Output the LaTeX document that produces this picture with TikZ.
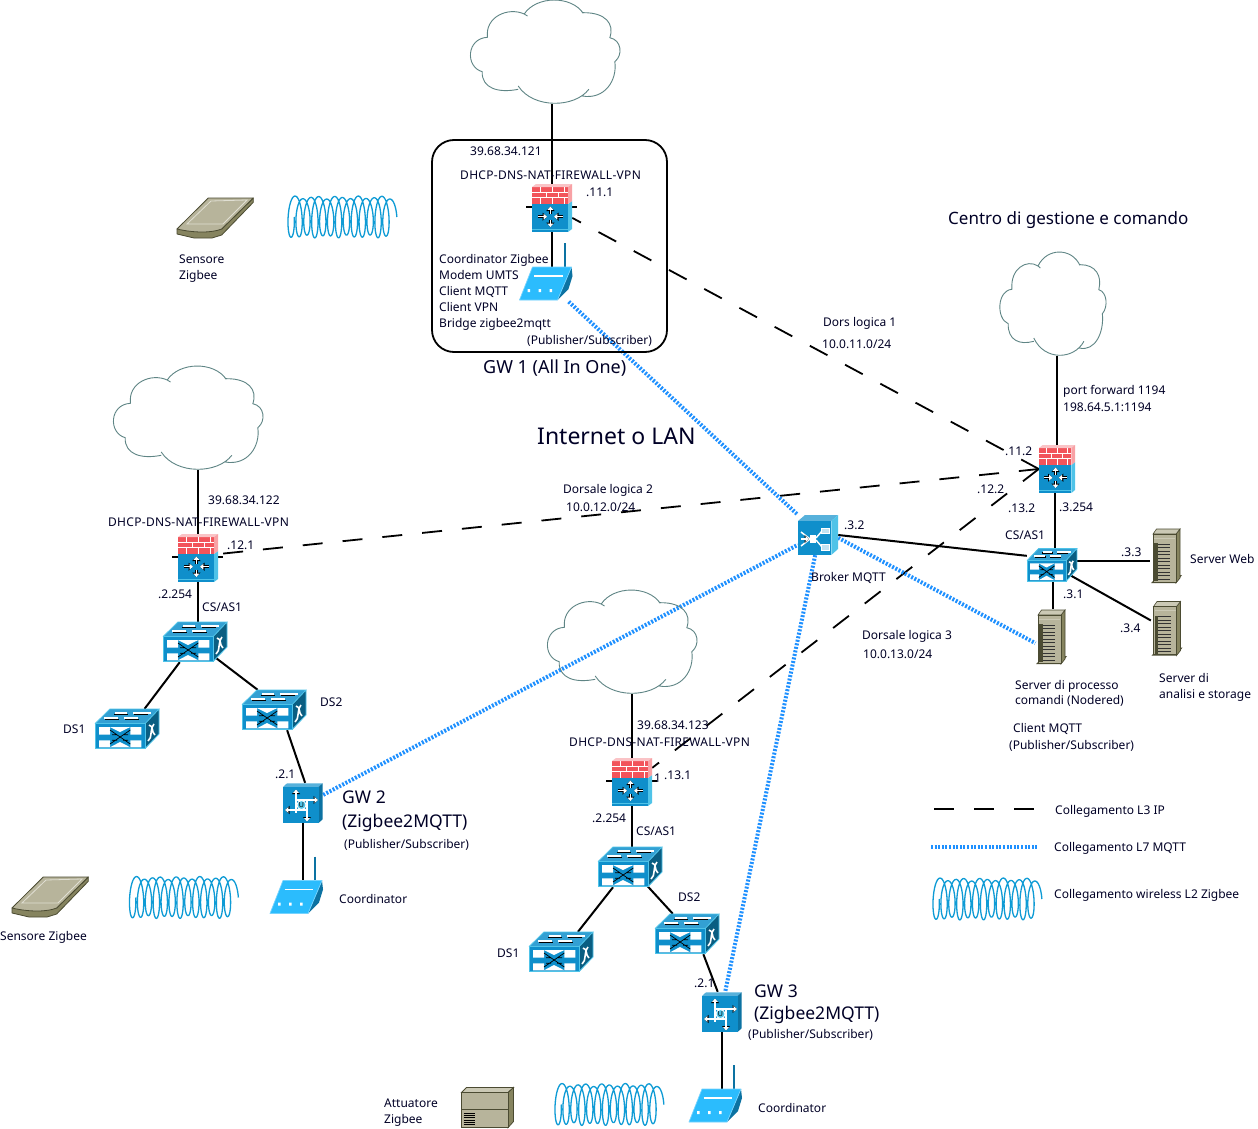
\documentclass[tikz,border=0pt]{standalone}
\usepackage{fontspec}
\setmainfont{Noto Sans}
\usetikzlibrary{arrows.meta}
\pgfdeclarelayer{links}
\pgfsetlayers{links,main}
\definecolor{netblue}{HTML}{0F8FCB}
\definecolor{netlight}{HTML}{4FC3E8}
\definecolor{netdark}{HTML}{0A5E82}
\definecolor{modemblue}{HTML}{2BBCFD}
\definecolor{brick}{HTML}{F2545B}
\definecolor{beige}{HTML}{B7B49B}
\definecolor{beigetop}{HTML}{CBC9B5}
\definecolor{beigeside}{HTML}{86845F}
\definecolor{beigeedge}{HTML}{4B4B32}
\definecolor{cloudline}{HTML}{5F8585}
\definecolor{mqtt}{HTML}{1E90FF}
\definecolor{coil}{HTML}{0E9BD5}
\newcommand\iconarrow[2]{%
  \draw[black,line width=2.6pt,-{Triangle[length=4.5pt,width=8pt]}] #1 -- #2;
  \draw[white,line width=1.3pt,-{Triangle[length=3.4pt,width=5.6pt]}] #1 -- #2;}
\newcommand\lab[5][txt]{\node[#1] (#2) at (#3,#4) {#5};}
\newcommand\svc{\addfontfeature{LetterSpace=2.5}DHCP-DNS-NAT-FIREWALL-VPN}
\tikzset{
  x=1pt,y=-1pt,
  txt/.style={anchor=base west,inner sep=0pt,yshift=-1pt,font=\fontsize{12}{14}\selectfont,text=black!85!blue},
  bigtxt/.style={txt,font=\fontsize{17.5}{20}\selectfont},
  iconbox/.style 2 args={inner sep=0pt,minimum width=#1pt,minimum height=#2pt},
  wire/.style={draw=black,line width=2pt},
  tunnel/.style={draw=black,line width=1.8pt,dash pattern=on 20pt off 20pt},
  mqttlink/.style={draw=mqtt,line width=4pt,dash pattern=on 2pt off 1.6pt},
  cloudicon/.pic={
    \draw[cloudline,line width=.9pt,line join=round]
      (-18.5,-36) -- (-21.8,-38) .. controls (-9.5,-56.5) and (25.5,-56.5) .. (37.2,-38.7)
      (36,-39.5) -- (38.2,-39.3) .. controls (58.8,-39.3) and (68.8,-28.7) .. (63.8,-14.3)
      .. controls (75.5,-12) and (77.2,3) .. (68.8,9.7)
      .. controls (71.5,28) and (58.8,48) .. (36.2,44)
      (42.8,37.3) .. controls (28.8,56) and (-12.8,57) .. (-27.8,34)
      (-27.8,37.3) .. controls (-47.8,41.3) and (-64.5,36.3) .. (-63.8,19.7)
      .. controls (-81,14.7) and (-79.5,-13.7) .. (-58.5,-14.7)
      (-58.5,-14.7) .. controls (-61.2,-35.3) and (-37.8,-45.3) .. (-21.8,-38);
  },
  fwstub/.pic={
    \draw[black,line width=2pt] (-26,-1) -- (25,-1);
  },
  fwicon/.pic={
    \fill[netlight] (16,-4) -- (20,-7) -- (20,21) -- (16,24) -- cycle;
    \fill[netblue] (-20,-4) rectangle (16,24);
    \draw[netlight,line width=.9pt] (-20,21) -- (16,21);
    \fill[brick] (-20,-21) rectangle (16,-4);
    \fill[brick!35!white] (-20,-21) -- (-16,-24) -- (20,-24) -- (16,-21) -- cycle;
    \fill[brick!55!white] (16,-21) -- (20,-24) -- (20,-7) -- (16,-4) -- cycle;
    \draw[white,line width=.8pt]
      (-20,-16) -- (16,-16) (-20,-10.5) -- (16,-10.5)
      (-12,-21) -- (-12,-16) (0,-21) -- (0,-16) (12,-21) -- (12,-16)
      (-6,-16) -- (-6,-10.5) (6,-16) -- (6,-10.5)
      (-12,-10.5) -- (-12,-4) (0,-10.5) -- (0,-4) (12,-10.5) -- (12,-4);
    \iconarrow{(-14,8.7)}{(-5,8.7)}
    \iconarrow{(11,8.7)}{(2,8.7)}
    \iconarrow{(-1.6,6)}{(-1.6,-1.5)}
    \iconarrow{(-1.6,11.5)}{(-1.6,19)}
  },
  switchicon/.pic={
    \fill[netdark] (18,-5.3) -- (32,-20) -- (32,5) -- (18,19.6) -- cycle;
    \fill[netblue!85!white] (-32,-5.3) -- (-17,-20) -- (32,-20) -- (18,-5.3) -- cycle;
    \filldraw[fill=netblue,draw=netlight,line width=.8pt] (-32,-5.3) rectangle (18,19.6);
    \draw[netlight,line width=.8pt] (-32,-5.3) -- (-17,-20) -- (32,-20) -- (18,-5.3) (32,-20) -- (32,5) -- (18,19.6);
    \fill[white] (-28,-2) rectangle (-17,5.7) (-28,11.3) rectangle (-17,18.3)
                 (3.3,-2) rectangle (14.3,5.7) (3.3,11.3) rectangle (14.3,18.3);
    \fill[white] (-17,-2) -- (3.3,-2) -- (-7,3) -- cycle (-17,18.3) -- (3.3,18.3) -- (-7,13) -- cycle;
    \draw[black,line width=.7pt] (-17,1) -- (3.3,15) (-17,15) -- (3.3,1)
      (-15,5.7) -- (-10,5.7) (-4,5.7) -- (1,5.7) (-15,11.3) -- (-10,11.3) (-4,11.3) -- (1,11.3);
    \draw[black,line width=1.4pt] (-22,-9.5) -- (-8,-9.5) (-2,-9.5) -- (12,-9.5) (-13,-14.5) -- (1,-14.5) (7,-14.5) -- (21,-14.5);
    \draw[white,line width=1.8pt] (-23,-11) -- (-9,-11) (-3,-11) -- (11,-11) (-12,-16) -- (0,-16) (6,-16) -- (24,-16);
    \draw[white,line width=1.6pt] (21,12) .. controls (26,8) and (22,2) .. (27,-5);
    \draw[white,line width=1.6pt] (28,6) .. controls (24,3) and (27,-3) .. (22,-4);
  },
  modemicon/.pic={
    \draw[netblue!80!black,line width=2pt] (19,-29) -- (19,-5);
    \fill[netblue!80!black] (26,-5) -- (27,4) -- (23,17) -- (12,28) -- cycle;
    \filldraw[fill=modemblue,draw=modemblue!65!white,line width=.7pt,line join=round]
      (-26,28) -- (-13,-5) -- (26,-5) -- (12,28) -- cycle;
    \draw[white,line width=1.8pt] (-11.5,4) -- (17,4);
    \fill[white] (-18,17) rectangle (-15.5,20) (-7,17) rectangle (-4.5,20) (4,17) rectangle (6.5,20);
  },
  gwicon/.pic={
    \fill[netblue!70!white] (-20,-16) -- (-16,-19.7) -- (19.7,-19.7) -- (15.5,-16) -- cycle;
    \fill[netblue!80!black] (15.5,-16) -- (19.7,-19.7) -- (19.7,16.3) -- (15.5,20) -- cycle;
    \fill[netblue] (-20,-16) rectangle (15.5,20);
    \iconarrow{(-7,10)}{(-7,-13.5)}
    \iconarrow{(-7,-3)}{(15,-3)}
    \iconarrow{(4,7)}{(-18,7)}
    \iconarrow{(4,-3)}{(4,18.5)}
    \filldraw[fill=netlight,draw=white,line width=.9pt] (-1.5,2) circle (4.5);
    \node[inner sep=0pt,font=\fontsize{7}{7}\selectfont\bfseries,text=black] (uglyph) at (-1.5,2) {U};
  },
  brokericon/.pic={
    \fill[netblue!70!white] (-20,-14) -- (-13,-20) -- (20,-20) -- (13.3,-14) -- cycle;
    \fill[netlight] (13.3,-14) -- (20,-20) -- (20,14) -- (13.3,20) -- cycle;
    \fill[netblue] (-20,-14) rectangle (13.3,20);
    \draw[white,line width=1.5pt] (-8,4) -- (-17,-3) (-8,4) -- (-17,11) (-8,4) -- (-16,4);
    \iconarrow{(-17,4)}{(-9,4)}
    \fill[white] (-8.3,0) rectangle (-1.7,7.7);
    \draw[white,line width=1.4pt] (-2,3) -- (4,-4) (-2,5) -- (4,12);
    \filldraw[fill=netblue!25!white,draw=white,line width=.8pt] (3.3,-7) rectangle (11,-1.7) (3.3,9) rectangle (11,15);
  },
  servericon/.pic={
    \fill[beigeedge] (-15,26) -- (10,26) -- (16,18) -- (14,18) -- (10,24) -- (-13,24) -- cycle;
    \filldraw[fill=beigeside,draw=beigeedge,line width=.6pt] (10,-23) -- (14,-28) -- (14,21) -- (10,26) -- cycle;
    \filldraw[fill=beigetop,draw=beigeedge,line width=.6pt] (-13,-23) -- (-9.5,-28) -- (14,-28) -- (10,-23) -- cycle;
    \filldraw[fill=beige,draw=beigeedge,line width=.8pt] (-13,-23) rectangle (10,25);
    \draw[beigetop,line width=.8pt] (-12,-19) -- (9,-19);
    \fill[beigeedge] (-12,-14) rectangle (-8.5,24);
    \foreach \rowy in {-13,-9.5,...,23}{\draw[black!80,line width=1pt] (-8.5,\rowy) -- (4,\rowy);}
  },
  cardicon/.pic={
    \filldraw[fill=beigeside,draw=beigeedge,line width=.8pt,line join=round]
      (-38,11) -- (-38,16) -- (-21,20) -- (-3,20) -- (6.7,17) -- (38.3,-15.7) -- (38.3,-20) -- (6.7,11) -- cycle;
    \filldraw[fill=beige,draw=beigeedge,line width=.8pt,line join=round]
      (-38,11) .. controls (-21,15) and (-3,15) .. (6.7,11) -- (38.3,-20) -- (-6.7,-20) -- cycle;
    \draw[beigetop!60!white,line width=.8pt] (-28,6) -- (-4,-17) -- (32,-18) -- (8,6) -- cycle;
  },
  boxicon/.pic={
    \filldraw[fill=beigetop,draw=beigeedge,line width=.8pt] (-26,-15) -- (-21,-20) -- (26,-20) -- (20.6,-15) -- cycle;
    \filldraw[fill=beigeside,draw=beigeedge,line width=.8pt] (20.6,-15) -- (26,-20) -- (26,14) -- (20.6,20) -- cycle;
    \filldraw[fill=beige,draw=beigeedge,line width=1pt] (-26,-15) rectangle (20.6,20);
    \draw[beigeedge,line width=.8pt] (-26,2) -- (20.6,2);
    \foreach \rowy in {6,8.2,...,17}{\draw[black,line width=1pt] (-24,\rowy) -- (-13,\rowy);}
  },
  coilicon/.pic={
    \draw[coil,line width=1.3pt,line join=round]
      plot[domain=0:4680,samples=420,variable=\t,smooth]
        ({(\t/360-6.75)*7.9+5*cos(\t)},{(19.5+1.5*sin(0.37*\t))*sin(\t)});
  }
}
\begin{document}
\begin{tikzpicture}
\useasboundingbox (0,0) rectangle (1258,1129);
\begin{pgfonlayer}{links}
  \fill[white] (0,0) rectangle (1258,1129);
\end{pgfonlayer}

% Clouds
\node[iconbox={148}{104}] (cloudTop) at (546,52) {};
\pic at (cloudTop) {cloudicon};
\node[iconbox={148}{104}] (cloudLeft) at (189,418) {};
\pic at (cloudLeft) {cloudicon};
\node[iconbox={148}{104}] (cloudMid) at (623,642) {};
\pic at (cloudMid) {cloudicon};
\node[iconbox={105}{104}] (cloudRight) at (1053.5,304) {};
\pic[xscale=.71] at (cloudRight) {cloudicon};

% GW 1 enclosure
\node[draw=black,line width=1.8pt,rounded corners=22pt,minimum width=235pt,minimum height=212pt,inner sep=0pt] (gwFrame) at (549.5,246) {};

% Firewalls
\node[iconbox={40}{48}] (fwTop) at (552,208) {};
\pic at (fwTop) {fwstub};
\pic at (fwTop) {fwicon};
\node[iconbox={40}{48}] (fwLeft) at (198,558) {};
\pic at (fwLeft) {fwstub};
\pic at (fwLeft) {fwicon};
\node[iconbox={40}{48}] (fwMid) at (632,782) {};
\pic at (fwMid) {fwstub};
\pic at (fwMid) {fwicon};
\node[iconbox={36}{47}] (fwRight) at (1057,469) {};
\pic[xscale=.9] at (fwRight) {fwicon};

% Switches
\node[iconbox={64}{40}] (swLeft) at (195,642) {};
\pic at (swLeft) {switchicon};
\node[iconbox={64}{40}] (dsOneLeft) at (127,729) {};
\pic at (dsOneLeft) {switchicon};
\node[iconbox={64}{40}] (dsTwoLeft) at (274,710) {};
\pic at (dsTwoLeft) {switchicon};
\node[iconbox={64}{40}] (swMid) at (630,867) {};
\pic at (swMid) {switchicon};
\node[iconbox={64}{40}] (dsOneMid) at (561,952) {};
\pic at (dsOneMid) {switchicon};
\node[iconbox={64}{40}] (dsTwoMid) at (687,934) {};
\pic at (dsTwoMid) {switchicon};
\node[iconbox={50}{33}] (swRight) at (1052,565) {};
\pic[xscale=.78,yscale=.83] at (swRight) {switchicon};

% Zigbee gateways and coordinators
\node[iconbox={40}{40}] (gwTwo) at (303,803) {};
\pic at (gwTwo) {gwicon};
\node[iconbox={40}{40}] (gwThree) at (722,1012) {};
\pic at (gwThree) {gwicon};
\node[iconbox={55}{59}] (modemTop) at (545.5,272) {};
\pic at (modemTop) {modemicon};
\node[iconbox={54}{57}] (modemLeft) at (296,885.5) {};
\pic at (modemLeft) {modemicon};
\node[iconbox={54}{59}] (modemMid) at (715,1094) {};
\pic at (modemMid) {modemicon};

% Broker and servers
\node[iconbox={40}{40}] (broker) at (818,535) {};
\pic at (broker) {brokericon};
\node[iconbox={31}{58}] (srvWeb) at (1166,557) {};
\pic at (srvWeb) {servericon};
\node[iconbox={31}{58}] (srvStore) at (1166.5,629.5) {};
\pic at (srvStore) {servericon};
\node[iconbox={31}{58}] (srvProc) at (1051,638) {};
\pic at (srvProc) {servericon};

% Zigbee end devices and radio links
\node[iconbox={76}{40}] (cardTop) at (215,218) {};
\pic at (cardTop) {cardicon};
\node[iconbox={76}{40}] (cardLeft) at (50,897) {};
\pic at (cardLeft) {cardicon};
\node[iconbox={52}{40}] (actuator) at (487.5,1107.5) {};
\pic at (actuator) {boxicon};
\node[iconbox={108}{42}] (coilTop) at (342.5,217) {};
\pic at (coilTop) {coilicon};
\node[iconbox={108}{42}] (coilLeft) at (184,897.5) {};
\pic at (coilLeft) {coilicon};
\node[iconbox={108}{42}] (coilBottom) at (609.5,1104.5) {};
\pic at (coilBottom) {coilicon};
\node[iconbox={108}{42}] (coilLegend) at (987.5,899) {};
\pic at (coilLegend) {coilicon};

% Legend line ends
\coordinate (legendDashA) at (934,809);
\coordinate (legendDashB) at (1036,809);
\coordinate (legendDotA) at (931,847);
\coordinate (legendDotB) at (1038,847);

\begin{pgfonlayer}{links}
  % Physical links
  \draw[wire] (fwTop.north |- cloudTop.south) -- (fwTop.north);
  \draw[wire] (fwTop.south) -- (fwTop.south |- modemTop.center);
  \draw[wire] (fwLeft.north |- cloudLeft.south) -- (fwLeft.north);
  \draw[wire] (fwLeft.south) -- (fwLeft.south |- swLeft.north);
  \draw[wire] (swLeft.-127) -- (dsOneLeft.49);
  \draw[wire] (swLeft.center) -- (dsTwoLeft.129);
  \draw[wire] (dsTwoLeft.-57) -- (gwTwo.84);
  \draw[wire] (gwTwo.south) -- (gwTwo.south |- modemLeft.center);
  \draw[wire] (fwMid.north |- cloudMid.south) -- (fwMid.north);
  \draw[wire] (fwMid.south) -- (fwMid.south |- swMid.north);
  \draw[wire] (swMid.-130) -- (dsOneMid.50);
  \draw[wire] (swMid.center) -- (dsTwoMid.125);
  \draw[wire] (dsTwoMid.-51) -- (gwThree.102);
  \draw[wire] (gwThree.south) -- (gwThree.south |- modemMid.center);
  \draw[wire] (fwRight.north |- cloudRight.south) -- (fwRight.north);
  \draw[wire] (swRight.80 |- fwRight.south) -- (swRight.80);
  \draw[wire] (broker.east) -- (swRight.160);
  \draw[wire] (swRight.9) -- (swRight.9 -| srvWeb.west);
  \draw[wire] (swRight.center) -- (srvStore.150);
  \draw[wire] (swRight.-85) -- (swRight.-85 |- srvProc.north);
  % Logical backbones
  \draw[tunnel] (fwRight.west) -- (fwTop.-26);
  \draw[tunnel] (fwRight.west) -- (fwLeft.11);
  \draw[tunnel] (fwRight.west) -- (fwMid.35);
  \draw[tunnel] (legendDashA) -- (legendDashB);
  % MQTT sessions
  \draw[mqttlink] (modemTop.-52) -- (broker.135);
  \draw[mqttlink] (gwTwo.22) -- (broker.206.6);
  \draw[mqttlink] (broker.-98) -- (gwThree.81);
  \draw[mqttlink] (broker.-8.5) -- (srvProc.198);
  \draw[mqttlink] (legendDotA) -- (legendDotB);
\end{pgfonlayer}

% Gateway 1 labels
\lab{ipTop}{470}{155}{39.68.34.121}
\lab{svcTop}{460}{178}{\svc}
\lab{addrTopA}{586}{195}{.11.1}
\lab{fnA}{439}{262}{Coordinator Zigbee}
\lab{fnB}{439}{278}{Modem UMTS}
\lab{fnC}{439}{294}{Client MQTT}
\lab{fnD}{439}{310}{Client VPN}
\lab{fnE}{439}{326}{Bridge zigbee2mqtt}
\lab{pubTop}{527}{343}{(Publisher/Subscriber)}
\node[txt,font=\fontsize{18}{21}\selectfont] (gwOneName) at (483,372) {GW 1 (All In One)};
\lab{sensorA}{179}{262}{Sensore}
\lab{sensorB}{179}{278}{Zigbee}

% Titles
\node[txt,font=\fontsize{23}{27}\selectfont] (lanTitle) at (537,443) {Internet o LAN};
\node[txt,font=\fontsize{17}{21}\selectfont] (centerTitle) at (948,223) {Centro di gestione e comando};

% Management centre labels
\lab{dorsOneA}{823}{325}{Dors logica 1}
\lab{dorsOneB}{822}{347}{10.0.11.0/24}
\lab{portA}{1063}{393}{port forward 1194}
\lab{portB}{1063}{410}{198.64.5.1:1194}
\lab{addrRightA}{1005}{454}{.11.2}
\lab{addrRightB}{977}{492}{.12.2}
\lab{addrRightC}{1008}{511}{.13.2}
\lab{addrRightD}{1059}{510}{.3.254}
\lab{csRight}{1005}{538}{CS/AS1}
\lab{addrBroker}{844}{528}{.3.2}
\lab{brokerName}{811}{580}{Broker MQTT}
\lab{addrWeb}{1121}{555}{.3.3}
\lab{webName}{1190}{562}{Server Web}
\lab{addrProc}{1063}{597}{.3.1}
\lab{addrStore}{1120}{631}{.3.4}
\lab{storeA}{1159}{681}{Server di}
\lab{storeB}{1159}{697}{analisi e storage}
\lab{procA}{1015}{688}{Server di processo}
\lab{procB}{1015}{703}{comandi (Nodered)}
\lab{procC}{1013}{731}{Client MQTT}
\lab{procD}{1009}{748}{(Publisher/Subscriber)}
\lab{dorsTwoA}{563}{492}{Dorsale logica 2}
\lab{dorsTwoB}{566}{510}{10.0.12.0/24}
\lab{dorsThreeA}{862}{638}{Dorsale logica 3}
\lab{dorsThreeB}{863}{657}{10.0.13.0/24}

% Gateway 2 labels
\lab{ipLeft}{208}{503}{39.68.34.122}
\lab{svcLeft}{108}{525}{\svc}
\lab{addrLeftA}{227}{548}{.12.1}
\lab{addrLeftB}{158}{597}{.2.254}
\lab{csLeft}{202}{610}{CS/AS1}
\lab{dsOneLeftName}{63}{732}{DS1}
\lab{dsTwoLeftName}{320}{705}{DS2}
\lab{addrLeftC}{275}{777}{.2.1}
\lab[bigtxt]{gwTwoA}{342}{802}{GW 2}
\lab[bigtxt]{gwTwoB}{342}{826}{(Zigbee2MQTT)}
\lab{pubLeft}{344}{847}{(Publisher/Subscriber)}
\lab{coordLeft}{339}{902}{Coordinator}
\lab{sensorLeft}{0}{939}{Sensore Zigbee}

% Gateway 3 labels
\lab{ipMid}{637}{728}{39.68.34.123}
\lab{svcMid}{569}{745}{\svc}
\lab{addrMidStub}{654}{781}{1}
\lab{addrMidA}{664}{778}{.13.1}
\lab{addrMidB}{592}{821}{.2.254}
\lab{csMid}{636}{834}{CS/AS1}
\lab{dsTwoMidName}{678}{900}{DS2}
\lab{dsOneMidName}{497}{956}{DS1}
\lab{addrMidC}{694}{986}{.2.1}
\lab[bigtxt]{gwThreeA}{754}{996}{GW 3}
\lab[bigtxt]{gwThreeB}{754}{1018}{(Zigbee2MQTT)}
\lab{pubMid}{748}{1037}{(Publisher/Subscriber)}
\lab{coordMid}{758}{1111}{Coordinator}
\lab{actA}{384}{1106}{Attuatore}
\lab{actB}{384}{1122}{Zigbee}

% Legend
\lab{legendA}{1055}{813}{Collegamento L3 IP}
\lab{legendB}{1054}{850}{Collegamento L7 MQTT}
\lab{legendC}{1054}{897}{Collegamento wireless L2 Zigbee}
\end{tikzpicture}
\end{document}
